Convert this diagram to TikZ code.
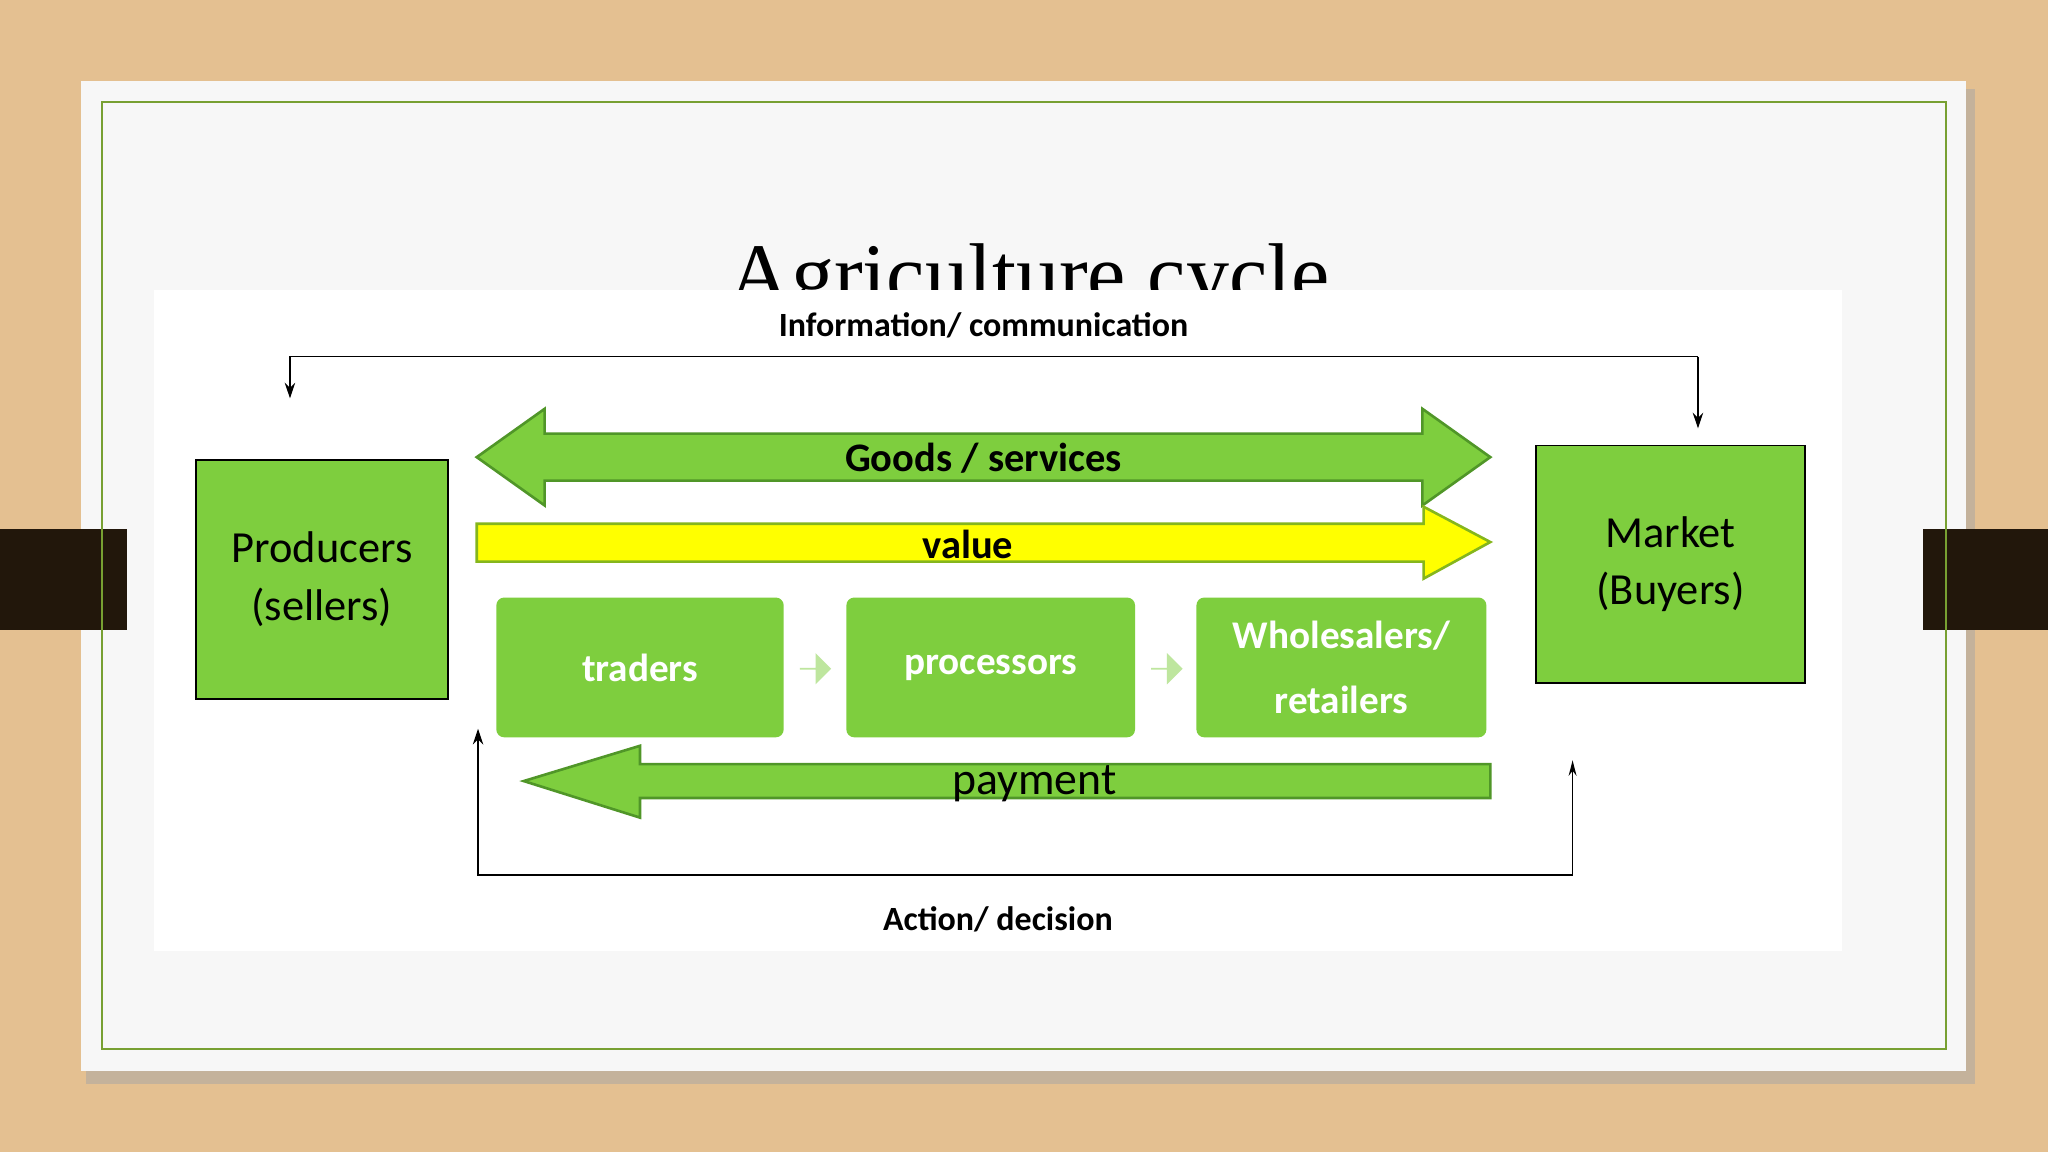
\documentclass[tikz,border=0pt]{standalone}
\usepackage{fontspec}
\setmainfont{Carlito}
\newfontfamily\titlefont{Liberation Serif}
\usetikzlibrary{arrows.meta,shapes.arrows}
\definecolor{wood}{RGB}{228,192,145}
\definecolor{gr}{RGB}{126,206,62}
\definecolor{grd}{RGB}{80,150,40}
\definecolor{frame}{RGB}{120,160,50}
\definecolor{ylw}{RGB}{255,255,0}
\tikzset{
 gbox/.style={draw=black,line width=1.2pt,fill=gr,align=center,font=\fontsize{34}{44}\selectfont},
 rbox/.style={fill=gr,rounded corners=6pt,text=white,align=center,font=\bfseries\fontsize{30}{50}\selectfont},
 conn/.style={line width=1pt},
 lbl/.style={font=\bfseries\fontsize{26}{28}\selectfont}
}
\begin{document}
\begin{tikzpicture}[x=1pt,y=-1pt]
\useasboundingbox (0,0) rectangle (1568,882);
\fill[wood] (0,0) rectangle (1568,882);
\fill[black!35,opacity=0.5] (66,68) rectangle (1512,830);
\fill[black!3] (62,62) rectangle (1505,820);
\fill[black!82!brown] (0,405) rectangle (97,482);
\fill[black!82!brown] (1472,405) rectangle (1568,482);
\draw[frame,line width=1.5pt] (78,78) rectangle (1490,803);
\node[font=\titlefont\fontsize{66}{68}\selectfont,anchor=base] (title) at (788,232) {Agriculture cycle};
\fill[white] (118,222) rectangle (1410,728);
% boxes
\node[gbox,minimum width=193,minimum height=183] (prod) at (246.5,443.5) {Producers\\(sellers)};
\node[gbox,minimum width=206,minimum height=182] (mkt) at (1279,432) {Market\\(Buyers)};
\node[rbox,minimum width=220,minimum height=107] (tr) at (490,511) {traders};
\node[rbox,minimum width=221,minimum height=107] (pr) at (758.5,511) {processors};
\node[rbox,minimum width=222,minimum height=107] (wh) at (1027,511) {Wholesalers/\\retailers};
\node[single arrow,fill=gr!50,minimum height=24,minimum width=24,single arrow head extend=3,inner sep=0] (a1) at (624,512) {};
\node[single arrow,fill=gr!50,minimum height=24,minimum width=24,single arrow head extend=3,inner sep=0] (a2) at (893,512) {};
% goods
\draw[grd,line width=2pt,fill=gr] (365,350) -- (417,313) -- (417,332) -- (1089,332) -- (1089,313) -- (1141,350) -- (1089,387) -- (1089,368) -- (417,368) -- (417,387) -- cycle;
\node[font=\bfseries\fontsize{31}{33}\selectfont] (goods) at (753,351) {Goods / services};
% value
\draw[grd!70!ylw,line width=2pt,fill=ylw] (365,401) -- (1090,401) -- (1090,388) -- (1141,415) -- (1090,443) -- (1090,430) -- (365,430) -- cycle;
\node[font=\bfseries\fontsize{31}{33}\selectfont] (val) at (741,417) {value};
% payment
\draw[grd,line width=2pt,fill=gr] (401,598) -- (490,571) -- (490,585) -- (1141,585) -- (1141,611) -- (490,611) -- (490,626) -- cycle;
\node[font=\fontsize{35}{37}\selectfont] (pay) at (792,600) {payment};
% info
\node[lbl] (info) at (753,249) {Information/ communication};
\coordinate (i1) at (1300,328);
\coordinate (i2) at (222,305);
\draw[conn,-{Stealth[length=12pt,width=8pt]}] (1300,273) -- (i1);
\draw[conn,-{Stealth[length=12pt,width=8pt]}] (1300,273) -- (222,273) -- (i2);
% action
\node[lbl] (act) at (764,704) {Action/ decision};
\coordinate (b1) at (366,558);
\coordinate (b2) at (1204,582);
\draw[conn,{Stealth[length=12pt,width=8pt]}-{Stealth[length=12pt,width=6pt]}] (b1) -- (366,670) -- (1204,670) -- (b2);
\end{tikzpicture}
\end{document}
